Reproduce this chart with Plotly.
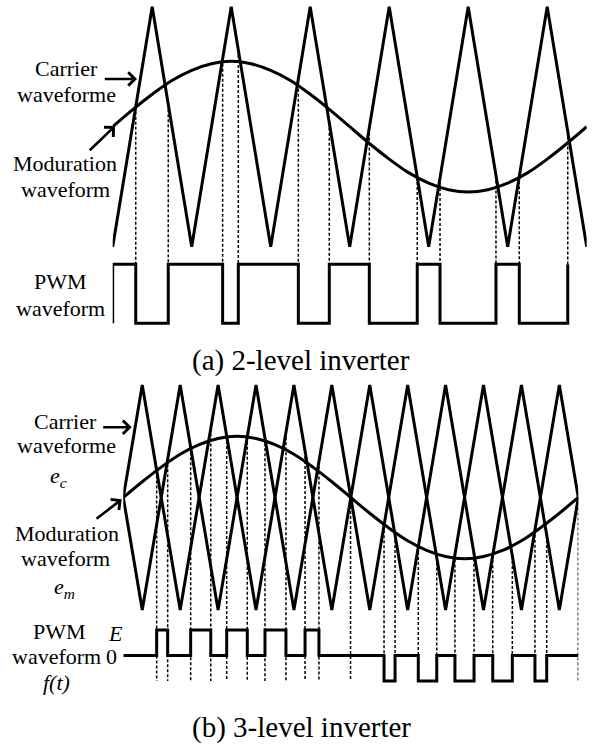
import numpy as np
import plotly.graph_objects as go

W, H = 594, 746

# ---------------- DATA (phase of modulating wave in degrees) ----------------
# (a) 2-level inverter
carrier_a_t = [0, 30, 60, 90, 120, 150, 180, 210, 240, 270, 300, 330, 360]
carrier_a_v = [-1, 1, -1, 1, -1, 1, -1, 1, -1, 1, -1, 1, -1]
mod_a_t = [0, 15, 30, 45, 60, 75, 90, 105, 120, 135, 150, 165, 180,
           195, 210, 225, 240, 255, 270, 285, 300, 315, 330, 345, 360]
mod_a_v = [0, 0.14, 0.27, 0.385, 0.47, 0.525, 0.545, 0.525, 0.47, 0.385, 0.27, 0.14, 0,
           -0.14, -0.27, -0.385, -0.47, -0.525, -0.545, -0.525, -0.47, -0.385, -0.27, -0.14, 0]
pwm_a_t = [0, 0, 17.5, 42.2, 83.5, 95.4, 141.0, 164.5, 194.9, 231.3, 248.6, 291.1, 308.8, 345.6]
pwm_a_v = [0, 1, 0, 1, 0, 1, 0, 1, 0, 1, 0, 1, 0, 1]

# (b) 3-level inverter
carrier_b_t = [0, 15, 45, 75, 105, 135, 165, 195, 225, 255, 285, 315, 345, 360]
carrier_b1_v = [0, 1, -1, 1, -1, 1, -1, 1, -1, 1, -1, 1, -1, 0]
carrier_b2_v = [0, -1, 1, -1, 1, -1, 1, -1, 1, -1, 1, -1, 1, 0]
mod_b_t = mod_a_t
mod_b_v = [0, 0.14, 0.27, 0.385, 0.47, 0.525, 0.545, 0.525, 0.47, 0.385, 0.27, 0.14, 0,
           -0.14, -0.27, -0.385, -0.47, -0.525, -0.545, -0.525, -0.47, -0.385, -0.27, -0.14, 0]
pwm_b_t = [0, 26.4, 35.1, 53.3, 69.2, 81.8, 98.1, 112.1, 128.7, 143.8, 154.8,
           206.3, 215.0, 233.4, 248.0, 262.4, 277.5, 292.3, 307.8, 325.7, 335.0, 360]
pwm_b_v = [0, 1, 0, 1, 0, 1, 0, 1, 0, 1, 0,
           -1, 0, -1, 0, -1, 0, -1, 0, -1, 0, 0]
extra_b_marks = [179.8, 360]

# ---------------- LAYOUT helpers ----------------
def xaxis_px(p0, p1, v0=0, v1=360):
    return dict(domain=[p0 / W, p1 / W], range=[v0, v1], visible=False, fixedrange=True)


def yaxis_px(p_top, p_bot, v1, p1, v2, p2, anchor):
    k = (v1 - v2) / (p2 - p1)
    rng = [v1 - (p_bot - p1) * k, v1 - (p_top - p1) * k]
    return dict(domain=[1 - p_bot / H, 1 - p_top / H], range=rng,
                visible=False, fixedrange=True, anchor=anchor)


xa = xaxis_px(112.7, 586.7)
xb = xaxis_px(123.3, 578.3)
ya = yaxis_px(0, 264.3, 1, 6.7, -1, 246.7, 'x')        # carrier (a)
ya_p = yaxis_px(250, 335, 1, 264.3, 0, 323.3, 'x')     # pwm (a)
yb = yaxis_px(372, 681, 1, 385, -1, 610, 'x2')         # carrier (b)
yb_p = yaxis_px(615, 695, 1, 630, -1, 681, 'x2')       # pwm (b)

LW = 3.0
DW = 1.5
BLACK = '#000'
fig = go.Figure()

# ---- panel (a)
fig.add_trace(go.Scatter(x=carrier_a_t, y=carrier_a_v, mode='lines',
                         line=dict(color=BLACK, width=LW), xaxis='x', yaxis='y'))
fig.add_trace(go.Scatter(x=mod_a_t, y=mod_a_v, mode='lines',
                         line=dict(color=BLACK, width=LW, shape='spline', smoothing=1.0),
                         xaxis='x', yaxis='y'))
dx, dy = [], []
for t in pwm_a_t[2:]:
    dx += [t, t, None]
    dy += [float(np.interp(t, carrier_a_t, carrier_a_v)), ya['range'][0], None]
fig.add_trace(go.Scatter(x=dx, y=dy, mode='lines',
                         line=dict(color=BLACK, width=DW, dash='3px,2px'),
                         xaxis='x', yaxis='y'))
fig.add_trace(go.Scatter(x=pwm_a_t, y=pwm_a_v, mode='lines',
                         line=dict(color=BLACK, width=LW, shape='hv'),
                         xaxis='x', yaxis='y3'))

# ---- panel (b)
for cv in (carrier_b1_v, carrier_b2_v):
    fig.add_trace(go.Scatter(x=carrier_b_t, y=cv, mode='lines',
                             line=dict(color=BLACK, width=LW), xaxis='x2', yaxis='y2'))
fig.add_trace(go.Scatter(x=mod_b_t, y=mod_b_v, mode='lines',
                         line=dict(color=BLACK, width=LW, shape='spline', smoothing=1.0),
                         xaxis='x2', yaxis='y2'))
dx, dy = [], []
for t in list(pwm_b_t[1:-1]) + extra_b_marks:
    c1 = float(np.interp(t, carrier_b_t, carrier_b1_v))
    c2 = float(np.interp(t, carrier_b_t, carrier_b2_v))
    s = float(np.interp(t, mod_b_t, mod_b_v))
    top = c1 if abs(c1 - s) < abs(c2 - s) else c2
    dx += [t, t, None]
    dy += [top, yb['range'][0], None]
fig.add_trace(go.Scatter(x=dx, y=dy, mode='lines',
                         line=dict(color=BLACK, width=DW, dash='3px,2px'),
                         xaxis='x2', yaxis='y2'))
fig.add_trace(go.Scatter(x=pwm_b_t, y=pwm_b_v, mode='lines',
                         line=dict(color=BLACK, width=LW, shape='hv'),
                         xaxis='x2', yaxis='y4'))

# ---------------- annotations ----------------
FONT = 'Liberation Serif, Times New Roman, serif'
ann = []


def label(text, px, py, size=22, xanchor='center'):
    ann.append(dict(text=text, x=px / W, y=1 - py / H, xref='paper', yref='paper',
                    showarrow=False, xanchor=xanchor, yanchor='middle',
                    font=dict(family=FONT, size=size, color=BLACK)))


def arrow(tail, head):
    ann.append(dict(text='', x=head[0] / W, y=1 - head[1] / H, xref='paper', yref='paper',
                    ax=tail[0] - head[0], ay=tail[1] - head[1], showarrow=True,
                    arrowhead=4, arrowsize=1, arrowwidth=2.6, arrowcolor=BLACK, standoff=0))


# (a)
label('Carrier', 66.7, 68.3)
label('waveforme', 66.7, 95)
label('Moduration', 65, 163.3)
label('waveform', 65, 190)
label('PWM', 60, 281.7)
label('waveform', 60, 308.3)
arrow((103.3, 79), (137, 79))
arrow((88.3, 151.7), (115, 126))
label('(a) 2-level inverter', 301, 360, size=29)

# (b)
label('Carrier', 65.8, 421)
label('waveforme', 66.7, 446)
label('<i>e</i><sub><i>c</i></sub>', 58, 476.7)
label('Moduration', 66.7, 533.3)
label('waveform', 65, 558.3)
label('<i>e</i><sub><i>m</i></sub>', 64, 588.3)
label('PWM', 59.3, 631)
label('<i>E</i>', 115, 633.3)
label('waveform', 56.7, 656)
label('0', 111.7, 656)
label('<i>f(t)</i>', 57, 682)
arrow((101.7, 427.3), (131.7, 427.3))
arrow((95, 520), (121.7, 499.3))
label('(b) 3-level inverter', 301, 727, size=29)

fig.update_layout(
    width=W, height=H, margin=dict(l=0, r=0, t=0, b=0),
    paper_bgcolor='white', plot_bgcolor='rgba(0,0,0,0)', showlegend=False,
    xaxis=xa, xaxis2=xb, yaxis=ya, yaxis3=ya_p, yaxis2=yb, yaxis4=yb_p,
    annotations=ann,
)
fig.write_html('out.html')
